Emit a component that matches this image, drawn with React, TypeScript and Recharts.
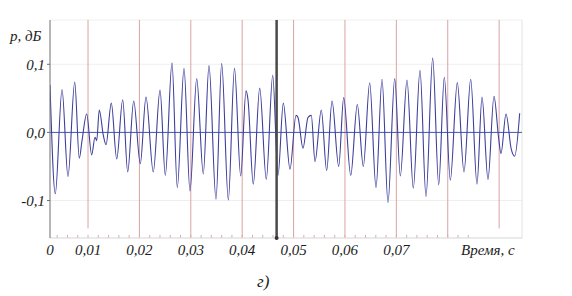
import React from 'react';
import { LineChart, Line, XAxis, YAxis, CartesianGrid, ReferenceLine, ReferenceDot } from 'recharts';

// time in milliseconds, pressure in dB
const timeMs = [
  2.6, 3.63, 4.94, 6.1, 7.41, 8.3, 8.83, 9.74, 10.71, 11.36, 11.69, 12.19, 12.97, 13.5, 14.53,
  15.58, 16.75, 17.72, 18.89, 20.17, 21.28, 22.7, 24.01, 25.04, 26.34, 27.37, 28.68, 29.84,
  31.15, 32.43, 33.54, 34.9, 36.01, 37.3, 38.5, 39.71, 40.74, 41.13, 42.16, 43.41, 44.69,
  45.94, 46.97, 48.0, 49.3, 50.47, 50.86, 51.83, 52.81, 53.45, 54.17, 55.39, 56.44, 57.48,
  58.78, 59.75, 61.12, 62.4, 63.57, 64.81, 66.04, 67.21, 68.37, 69.68, 70.77, 72.07, 73.3,
  74.6, 75.77, 77.07, 78.24, 79.33, 80.5, 81.86, 83.16, 84.47, 85.69, 86.67, 87.83, 89.0,
  89.91, 90.36, 91.34, 92.37, 93.03, 94.0,
];

const pressure = [
  0.07, -0.09, 0.063, -0.065, 0.074, -0.038, -0.012, 0.027, -0.033, -0.007, -0.012, 0.033, -0.004, -0.018, 0.043,
  -0.039, 0.048, -0.058, 0.046, -0.046, 0.052, -0.058, 0.062, -0.063, 0.102, -0.081, 0.094, -0.086,
  0.079, -0.061, 0.098, -0.098, 0.101, -0.099, 0.094, -0.064, 0.061, 0.048, -0.076, 0.065, -0.069,
  0.084, -0.063, 0.043, -0.054, 0.025, 0.022, -0.023, 0.022, 0.025, -0.043, 0.033, -0.056, 0.046,
  -0.05, 0.051, -0.063, 0.041, -0.05, 0.073, -0.081, 0.078, -0.103, 0.079, -0.064, 0.077, -0.082,
  0.091, -0.094, 0.109, -0.077, 0.081, -0.07, 0.073, -0.058, 0.078, -0.076, 0.052, -0.069, 0.053,
  -0.009, -0.031, 0.027, -0.025, -0.035, 0.028,
];

const xTicks = [2.6, 10, 20, 30, 40, 50, 60, 70];
const xTickLabels = ['0', '0,01', '0,02', '0,03', '0,04', '0,05', '0,06', '0,07'];
const yTicks = [-0.1, 0, 0.1];
const markerLines = [10, 20, 30, 40, 50, 60, 70, 80, 90];
const shortMarkers = [10, 90];
const minorTicks = [
  4, 6, 8, 10, 12, 14, 16, 18, 20, 22, 24, 26, 28, 30, 32, 34, 36, 38, 40, 42, 44,
  46, 48, 50, 52, 54, 56, 58, 60, 62, 64, 66, 68, 70, 72, 74, 76, 78, 80, 82, 84,
];
const cursorMs = 46.7;

const data = timeMs.map((t, i) => ({ t, p: pressure[i] }));

const Y_MIN = -0.155;
const Y_MAX = 0.165;
const X_MIN = 2.6;
const X_MAX = 94.45;

const SERIF = "'Liberation Serif', Tinos, serif";
const textStyle = { fontFamily: SERIF, fontStyle: 'italic', fontSize: 15 };
const tickProps = { fill: '#1c1c1c', fontSize: 15, style: textStyle };

export default function App() {
  return (
    <div style={{ position: 'absolute', left: 0, top: 0, width: 572, height: 296, background: '#fff' }}>
      <LineChart width={572} height={296} data={data} margin={{ top: 20, right: 50, bottom: 28, left: 0 }}>
        <CartesianGrid vertical={false} stroke="#efefef" />
        <XAxis
          type="number"
          dataKey="t"
          domain={[X_MIN, X_MAX]}
          ticks={xTicks}
          allowDataOverflow
          height={30}
          axisLine={{ stroke: '#dddddd' }}
          tickLine={false}
          tickSize={4}
          tickMargin={2}
          tick={tickProps}
          tickFormatter={(v: number) => xTickLabels[xTicks.indexOf(v)] ?? ''}
        />
        <YAxis
          type="number"
          domain={[Y_MIN, Y_MAX]}
          ticks={yTicks}
          allowDataOverflow
          width={50}
          axisLine={{ stroke: '#6e6e6e' }}
          tickLine={{ stroke: '#6e6e6e' }}
          tickSize={3}
          tick={tickProps}
          tickFormatter={(v: number) => (v === 0 ? '0,0' : v.toFixed(1).replace('.', ','))}
        />
        <ReferenceLine x={X_MAX} stroke="#e2e2e2" />
        {markerLines.map((m) => (
          <ReferenceLine
            key={m}
            segment={[
              { x: m, y: shortMarkers.includes(m) ? -0.141 : Y_MIN },
              { x: m, y: Y_MAX },
            ]}
            stroke="#dba3a3"
            strokeWidth={1}
          />
        ))}
        {minorTicks.map((m) => (
          <ReferenceLine
            key={'mt' + m}
            segment={[
              { x: m, y: Y_MIN },
              { x: m, y: Y_MIN + 0.0045 },
            ]}
            stroke="#e3a9a9"
          />
        ))}
        <ReferenceLine y={0} stroke="#4656b0" strokeWidth={1} />
        <Line
          type="monotone"
          dataKey="p"
          stroke="#3d3f9c"
          strokeWidth={1.1}
          dot={false}
          isAnimationActive={false}
        />
        <ReferenceLine x={cursorMs} stroke="#4a4a4a" strokeWidth={2.5} />
        <ReferenceDot x={cursorMs} y={Y_MIN} r={2} fill="#333" stroke="none" />
      </LineChart>
      <svg
        width={572}
        height={296}
        style={{ position: 'absolute', left: 0, top: 0, pointerEvents: 'none' }}
      >
        <text x={10} y={41} fill="#1c1c1c" style={textStyle}>p, дБ</text>
        <text x={461} y={255} fill="#1c1c1c" style={textStyle}>Время, с</text>
        <text x={257} y={287} fill="#1c1c1c" style={{ ...textStyle, fontSize: 17 }}>г)</text>
      </svg>
    </div>
  );
}
